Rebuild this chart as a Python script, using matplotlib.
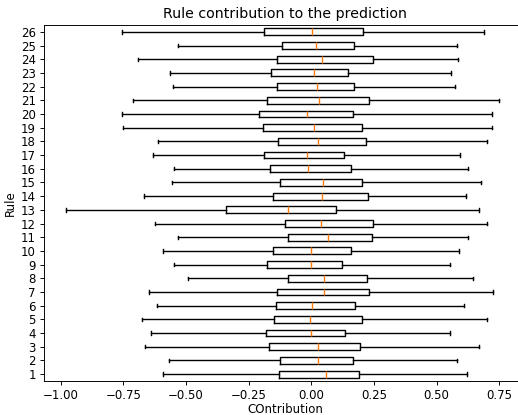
import numpy as np
import matplotlib
matplotlib.use("Agg")
import matplotlib.pyplot as plt

# ==========================================================
# Box statistics per rule
# ==========================================================

rules = list(range(1, 27))

whislo = [-0.593, -0.568, -0.664, -0.638, -0.676, -0.616, -0.646, -0.492,
          -0.549, -0.593, -0.531, -0.623, -0.980, -0.668, -0.555, -0.548,
          -0.630, -0.613, -0.752, -0.754, -0.710, -0.551, -0.564, -0.693,
          -0.533, -0.757]
q1 = [-0.129, -0.126, -0.169, -0.181, -0.148, -0.141, -0.136, -0.092,
      -0.178, -0.153, -0.092, -0.104, -0.339, -0.153, -0.125, -0.165,
      -0.190, -0.132, -0.193, -0.210, -0.178, -0.137, -0.160, -0.137,
      -0.116, -0.190]
med = [0.057, 0.025, 0.027, 0.000, -0.004, 0.004, 0.049, 0.049,
       0.000, 0.000, 0.065, 0.037, -0.094, 0.044, 0.047, -0.012,
       -0.019, 0.028, 0.012, -0.016, 0.032, 0.021, 0.009, 0.041,
       0.019, 0.004]
q3 = [0.192, 0.168, 0.194, 0.134, 0.202, 0.174, 0.229, 0.222,
      0.124, 0.157, 0.242, 0.246, 0.100, 0.227, 0.201, 0.158,
      0.132, 0.219, 0.204, 0.166, 0.231, 0.169, 0.145, 0.246,
      0.169, 0.206]
whishi = [0.621, 0.580, 0.670, 0.553, 0.700, 0.608, 0.725, 0.646,
          0.555, 0.588, 0.624, 0.702, 0.670, 0.619, 0.676, 0.624,
          0.595, 0.701, 0.722, 0.720, 0.750, 0.575, 0.557, 0.584,
          0.580, 0.688]

stats = []
for i, r in enumerate(rules):
    stats.append({
        "label": str(r),
        "whislo": whislo[i],
        "q1": q1[i],
        "med": med[i],
        "q3": q3[i],
        "whishi": whishi[i],
        "fliers": [],
    })

# reference looks like a downscaled default figure (cropped on the right)
SCALE = 0.845

plt.rcParams["font.size"] = 10 * SCALE
plt.rcParams["axes.titlesize"] = 12 * SCALE
plt.rcParams["axes.linewidth"] = 0.8 * SCALE
plt.rcParams["xtick.major.size"] = 3.5 * SCALE
plt.rcParams["ytick.major.size"] = 3.5 * SCALE
plt.rcParams["xtick.major.width"] = 0.8 * SCALE
plt.rcParams["ytick.major.width"] = 0.8 * SCALE
plt.rcParams["xtick.major.pad"] = 3.0
plt.rcParams["ytick.major.pad"] = 3.0

# ==========================================================
# Plot
# ==========================================================

fig = plt.figure(figsize=(5.18, 4.15), dpi=100)
ax = fig.add_axes([44 / 518, 34 / 415, 482 / 518, 356 / 415])

lw = 1.0
ax.bxp(
    stats,
    vert=False,
    showfliers=False,
    boxprops=dict(linewidth=lw),
    whiskerprops=dict(linewidth=lw),
    capprops=dict(linewidth=lw),
    medianprops=dict(linewidth=lw),
)

ax.set_xlim(-1.0666, 0.8565)
ax.set_xlabel("COntribution", labelpad=0.5)
ax.set_ylabel("Rule", labelpad=3)
ax.set_title("Rule contribution to the prediction", pad=5)

fig.savefig("out.png", dpi=100)
